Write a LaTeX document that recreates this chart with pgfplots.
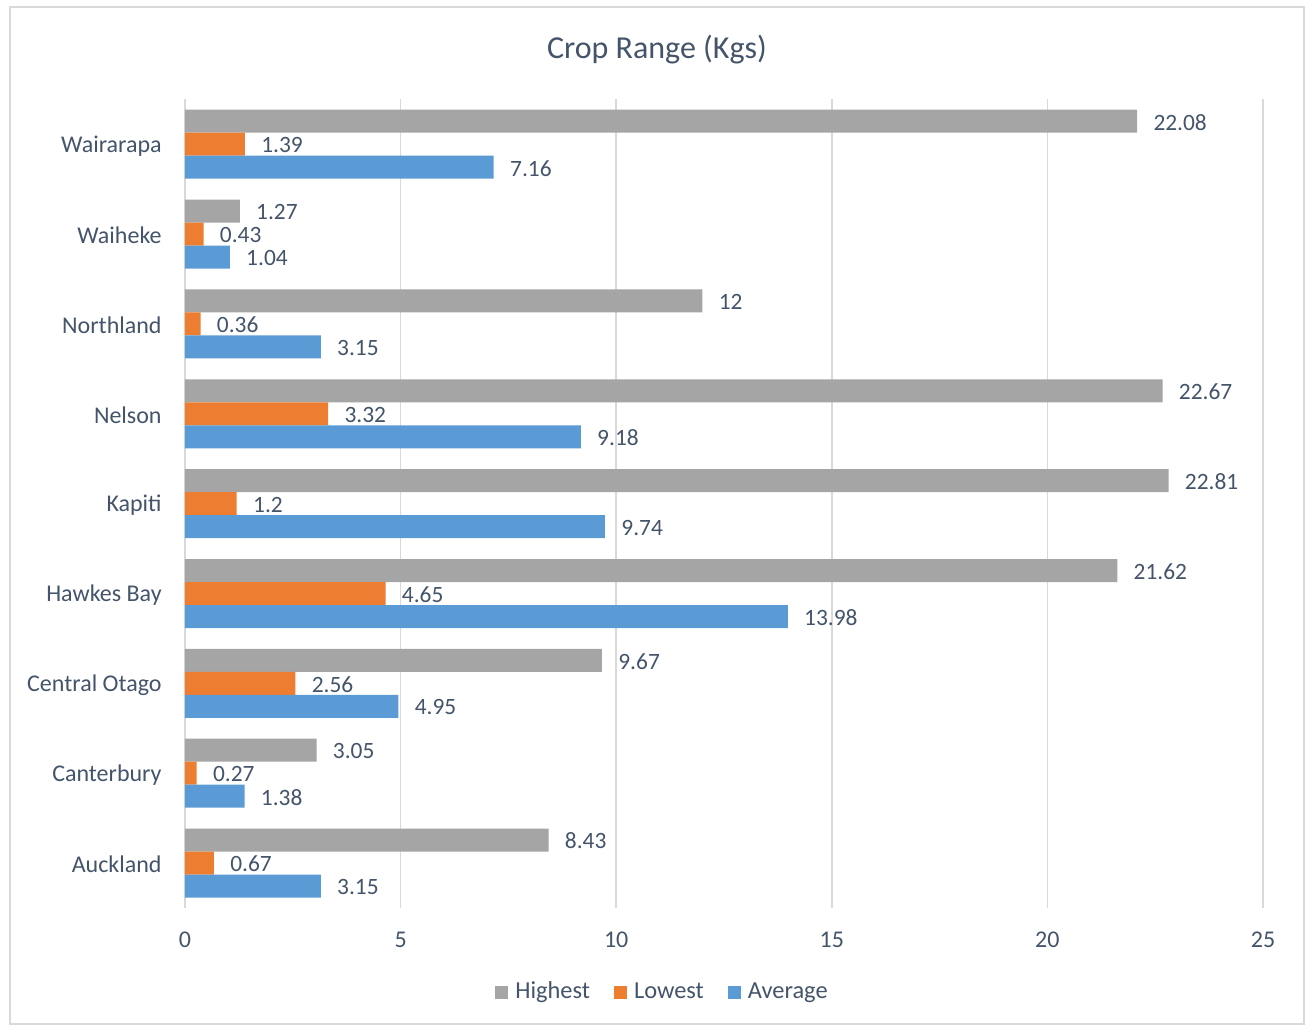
\documentclass[border=0pt]{standalone}
\usepackage{fontspec}
\setmainfont{Carlito}
\usepackage{pgfplots}
\pgfplotsset{compat=1.18}

\definecolor{txt}{HTML}{44546A}
\definecolor{gridc}{HTML}{D9D9D9}
\definecolor{frame}{HTML}{D9D9D9}
\definecolor{hiC}{HTML}{A5A5A5}
\definecolor{loC}{HTML}{ED7D31}
\definecolor{avC}{HTML}{5B9BD5}

\begin{document}
\begin{tikzpicture}
% canvas: 1px = 0.5pt, plot area south west at (0,0)
\path[use as bounding box] (-92.5pt,-59pt) rectangle (562pt,454pt);
\draw[frame, line width=0.75pt] (-87.5pt,-58pt) rectangle (559.5pt,450.5pt);
\begin{axis}[
    xbar,
    scale only axis,
    width=539pt, height=404.35pt,
    xmin=0, xmax=25,
    ymin=-0.5, ymax=8.5,
    xtick={0,5,...,25},
    ytick={0,...,8},
    yticklabels={Auckland, Canterbury, Central Otago, Hawkes Bay, Kapiti, Nelson, Northland, Waiheke, Wairarapa},
    xmajorgrids,
    grid style={gridc, line width=0.75pt},
    axis line style={draw=none},
    major tick length=0pt,
    tick label style={font=\fontsize{12}{14}\selectfont, text=txt},
    yticklabel style={inner sep=0pt, xshift=-11.5pt, yshift=-0.8pt},
    xticklabel style={inner sep=0pt, yshift=-12pt, anchor=north},
    /pgf/number format/assume math mode=true,
    bar width=0.256,
    nodes near coords,
    point meta=x,
    every node near coord/.append style={font=\fontsize{11.7}{14}\selectfont, text=txt, anchor=west, inner sep=0pt, xshift=8pt, yshift=-0.5pt},
    legend columns=3,
    legend style={draw=none, fill=none, at={(axis description cs:0.442,-0.1039)}, anchor=center,
        font=\fontsize{12.2}{14}\selectfont, text=txt,
        /tikz/every even column/.append style={column sep=12pt},
        nodes={inner sep=0pt}},
    legend image code/.code={\fill[#1] (0pt,-3.25pt) rectangle (6.5pt,3.25pt);},
    clip=false,
]
\addplot[draw=none, fill=hiC, bar shift=0.256] coordinates {
    (8.43,0) (3.05,1) (9.67,2) (21.62,3) (22.81,4) (22.67,5) (12,6) (1.27,7) (22.08,8)
};
\addplot[draw=none, fill=loC, bar shift=0] coordinates {
    (0.67,0) (0.27,1) (2.56,2) (4.65,3) (1.2,4) (3.32,5) (0.36,6) (0.43,7) (1.39,8)
};
\addplot[draw=none, fill=avC, bar shift=-0.256] coordinates {
    (3.15,0) (1.38,1) (4.95,2) (13.98,3) (9.74,4) (9.18,5) (3.15,6) (1.04,7) (7.16,8)
};
\legend{\hspace{3.5pt}Highest, \hspace{3.5pt}Lowest, \hspace{3.5pt}Average}
\end{axis}
\node[font=\fontsize{16}{19}\selectfont, text=txt] at (236pt,429pt) {Crop Range (Kgs)};
\end{tikzpicture}
\end{document}
